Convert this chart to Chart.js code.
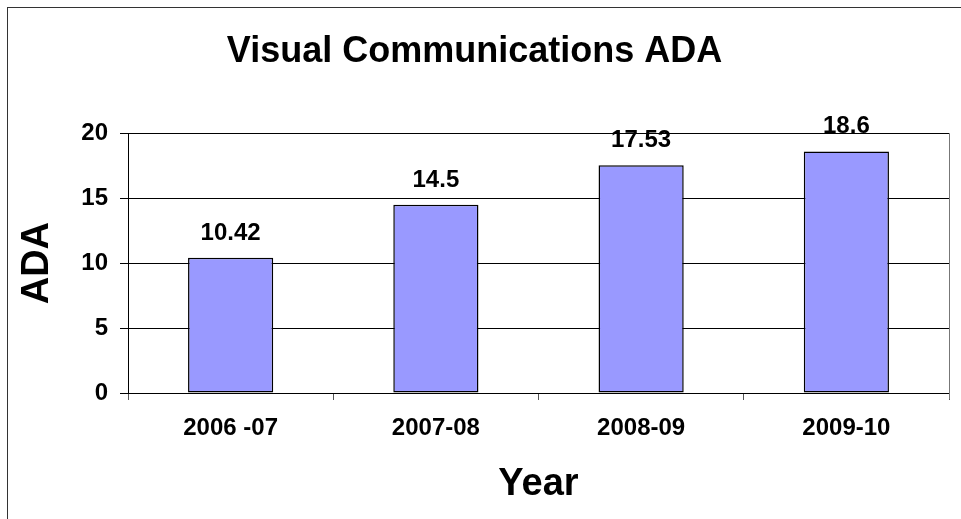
<!DOCTYPE html>
<html>
<head>
<meta charset="utf-8">
<style>
  html, body { margin: 0; padding: 0; background: #fff; }
  #wrap { width: 961px; height: 519px; }
</style>
<script src="https://cdn.jsdelivr.net/npm/chart.js@4/dist/chart.umd.min.js"></script>
</head>
<body>
<div id="wrap"><canvas id="adaChart" width="961" height="519"></canvas></div>
<script>
const years = ['2006 -07', '2007-08', '2008-09', '2009-10'];
const adaValues = [10.42, 14.5, 17.53, 18.6];
const adaLabels = ['10.42', '14.5', '17.53', '18.6'];
const yTicks = [0, 5, 10, 15, 20];

const FONT = 'Arial, "Liberation Sans", sans-serif';

// outer frame + right edge of the plot area
const framePlugin = {
  id: 'frame',
  beforeDraw(chart) {
    const c = chart.ctx;
    c.save();
    c.strokeStyle = '#333';
    c.lineWidth = 1;
    c.strokeRect(7.5, 7.5, 1200, 1200);
    c.restore();
  },
  afterDraw(chart) {
    const c = chart.ctx, a = chart.chartArea;
    c.save();
    c.strokeStyle = '#777';
    c.lineWidth = 1;
    c.beginPath();
    c.moveTo(Math.round(a.right) + 0.5, a.top);
    c.lineTo(Math.round(a.right) + 0.5, a.bottom + 6);
    c.stroke();
    c.restore();
  }
};

// value labels over the bars
const valueLabels = {
  id: 'valueLabels',
  afterDatasetsDraw(chart) {
    const c = chart.ctx;
    const meta = chart.getDatasetMeta(0);
    c.save();
    c.font = 'bold 24px ' + FONT;
    c.fillStyle = '#000';
    c.textAlign = 'center';
    c.textBaseline = 'alphabetic';
    meta.data.forEach((bar, i) => {
      c.fillText(adaLabels[i], bar.x, bar.y - 18);
    });
    c.restore();
  }
};

new Chart(document.getElementById('adaChart').getContext('2d'), {
  type: 'bar',
  data: {
    labels: years,
    datasets: [{
      label: 'ADA',
      data: adaValues,
      backgroundColor: '#9999FF',
      borderColor: '#000',
      borderWidth: 1.5,
      borderSkipped: false,
      barPercentage: 0.415,
      categoryPercentage: 1
    }]
  },
  options: {
    responsive: false,
    animation: false,
    devicePixelRatio: 1,
    layout: { padding: { left: 0, right: 12, top: 0, bottom: 0 } },
    plugins: {
      legend: { display: false },
      tooltip: { enabled: false },
      title: {
        display: true,
        text: 'Visual Communications ADA',
        color: '#000',
        font: { family: FONT, size: 36, weight: 'bold' },
        padding: { top: 30, bottom: 60 }
      }
    },
    scales: {
      x: {
        grid: {
          offset: true,
          drawOnChartArea: false,
          drawTicks: true,
          tickLength: 7,
          color: '#555'
        },
        border: { display: true, color: '#000', width: 1 },
        ticks: {
          color: '#000',
          padding: 14,
          font: { family: FONT, size: 24, weight: 'bold' }
        },
        title: {
          display: true,
          text: 'Year',
          color: '#000',
          font: { family: FONT, size: 38, weight: 'bold' },
          padding: { top: 0, bottom: 12 }
        },
        afterFit(scale) { scale.height = 126; }
      },
      y: {
        min: 0,
        max: 20,
        afterBuildTicks(scale) { scale.ticks = yTicks.map(v => ({ value: v })); },
        grid: {
          color: '#000',
          lineWidth: 1,
          drawTicks: true,
          tickLength: 8
        },
        border: { display: true, color: '#000', width: 1 },
        ticks: {
          color: '#000',
          padding: 12,
          font: { family: FONT, size: 24, weight: 'bold' }
        },
        title: {
          display: true,
          text: 'ADA',
          color: '#000',
          font: { family: FONT, size: 38, weight: 'bold' },
          padding: { top: 15, bottom: 0 }
        },
        afterFit(scale) { scale.width = 128; }
      }
    }
  },
  plugins: [framePlugin, valueLabels]
});
</script>
</body>
</html>
